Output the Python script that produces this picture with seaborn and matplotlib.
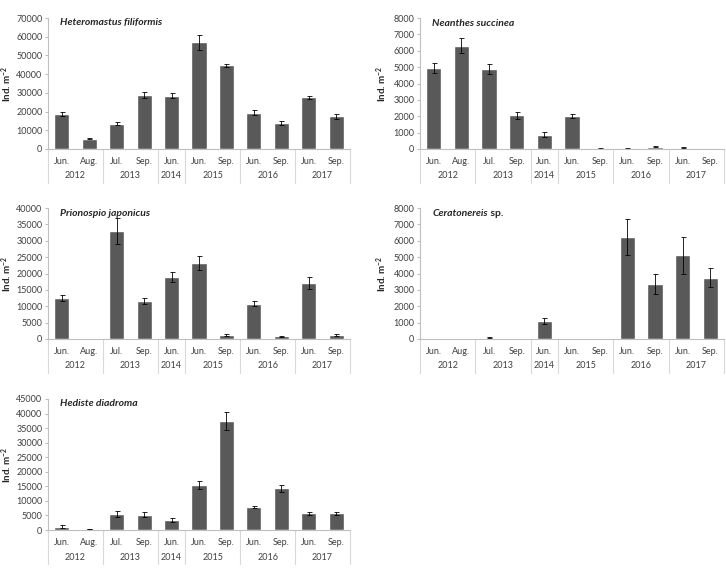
import matplotlib
matplotlib.use("Agg")
import matplotlib.pyplot as plt
import seaborn as sns
import pandas as pd
import numpy as np

# categorias del eje (dos niveles: mes / año)
years = ["2012", "2012", "2013", "2013", "2014", "2015", "2015", "2016", "2016", "2017", "2017"]
months = ["Jun.", "Aug.", "Jul.", "Sep.", "Jun.", "Jun.", "Sep.", "Jun.", "Sep.", "Jun.", "Sep."]

heteromastus = [18800, 5600, 13500, 29000, 28500, 57000, 44700, 19500, 13800, 27600, 17400]
heteromastus_err = [900, 400, 700, 1500, 1300, 4000, 900, 1500, 900, 800, 1200]

neanthes = [4950, 6320, 4870, 2060, 880, 2010, 30, 30, 130, 80, 20]
neanthes_err = [300, 480, 300, 200, 130, 110, 10, 10, 30, 20, 10]

prionospio = [12500, 100, 33000, 11600, 18900, 23200, 1200, 10800, 800, 17000, 1300]
prionospio_err = [1000, 50, 4000, 1000, 1500, 2000, 200, 700, 200, 1800, 300]

ceratonereis = [0, 0, 80, 0, 1100, 0, 0, 6250, 3350, 5100, 3750]
ceratonereis_err = [0, 0, 30, 0, 200, 0, 0, 1100, 600, 1100, 600]

hediste = [1200, 300, 5400, 5300, 3400, 15500, 37500, 7900, 14300, 5700, 5700]
hediste_err = [500, 100, 1000, 900, 600, 1300, 3000, 300, 1300, 600, 600]

sns.set_style("white")
plt.rcParams["font.family"] = ["Lato", "DejaVu Sans"]
plt.rcParams["mathtext.default"] = "regular"

W, H = 726, 574
fig = plt.figure(figsize=(W / 100, H / 100), dpi=100)

bar_color = "#595959"
text_color = "#404040"
line_color = "#bfbfbf"

# (titulo, sufijo no cursiva, valores, errores, ymax, paso, izquierda, derecha, arriba, abajo, x etiqueta y en px)
paneles = [
    ("Heteromastus filiformis", "", heteromastus, heteromastus_err, 70000, 10000, 48, 350, 18, 149, 14),
    ("Neanthes succinea", "", neanthes, neanthes_err, 8000, 1000, 420, 724, 18, 149, 389),
    ("Prionospio japonicus", "", prionospio, prionospio_err, 40000, 5000, 48, 350, 208, 339, 14),
    ("Ceratonereis", " sp.", ceratonereis, ceratonereis_err, 8000, 1000, 420, 724, 208, 339, 389),
    ("Hediste diadroma", "", hediste, hediste_err, 45000, 5000, 48, 350, 399, 530, 14),
]

pos = np.arange(len(months))
cats = [f"{m} {y} {i}" for i, (m, y) in enumerate(zip(months, years))]
bounds = [-0.5, 1.5, 3.5, 4.5, 6.5, 8.5, 10.5]

for titulo, sufijo, vals, errs, ymax, paso, x0, x1, y0, y1, xlab in paneles:
    ax = fig.add_axes([x0 / W, 1 - y1 / H, (x1 - x0) / W, (y1 - y0) / H])
    alto = y1 - y0
    ancho = x1 - x0
    df = pd.DataFrame({"cat": cats, "val": vals})
    sns.barplot(data=df, x="cat", y="val", order=cats, color=bar_color,
                saturation=1, width=0.55, errorbar=None, ax=ax)
    e = np.array(errs)
    v = np.array(vals)
    m = e > 0
    ax.errorbar(pos[m], v[m], yerr=e[m], fmt="none", ecolor="black",
                elinewidth=0.6, capsize=1.8, capthick=0.6)

    ax.set_xlim(-0.5, 10.5)
    ax.set_ylim(0, ymax)
    ax.set_yticks(np.arange(0, ymax + 1, paso))
    ax.tick_params(axis="y", labelsize=6.5, labelcolor=text_color, length=2,
                   color=line_color, pad=2, left=True)
    ax.set_xticks(pos)
    ax.set_xticklabels(months)
    ax.tick_params(axis="x", labelsize=6.5, labelcolor=text_color, length=0, pad=6)
    ax.set_xlabel("")
    ax.set_ylabel("Ind. m$^{-2}$", fontsize=7, fontweight="bold")
    ax.yaxis.set_label_coords((xlab - x0) / ancho, 0.5)

    for s in ["top", "right"]:
        ax.spines[s].set_visible(False)
    for s in ["left", "bottom"]:
        ax.spines[s].set_color(line_color)
        ax.spines[s].set_linewidth(0.8)

    # separadores de años y etiquetas de año
    tr = ax.get_xaxis_transform()
    for b in bounds:
        ax.plot([b, b], [0, -34 / alto], transform=tr, color="#d9d9d9",
                lw=0.8, clip_on=False)
    for y in dict.fromkeys(years):
        xs = [p for p, yy in zip(pos, years) if yy == y]
        ax.text(np.mean(xs), -27 / alto, y, transform=tr, ha="center", va="center",
                fontsize=6.5, color=text_color)

    t = ax.text(0.04, 1 - 5 / alto, titulo, transform=ax.transAxes, fontsize=7.5,
                fontweight="bold", fontstyle="italic", va="center", ha="left")
    if sufijo:
        ax.annotate(sufijo, xy=(1, 0), xycoords=t, va="bottom", ha="left",
                    fontsize=7.5, fontweight="bold")

fig.savefig("out.png", dpi=100, facecolor="white")
